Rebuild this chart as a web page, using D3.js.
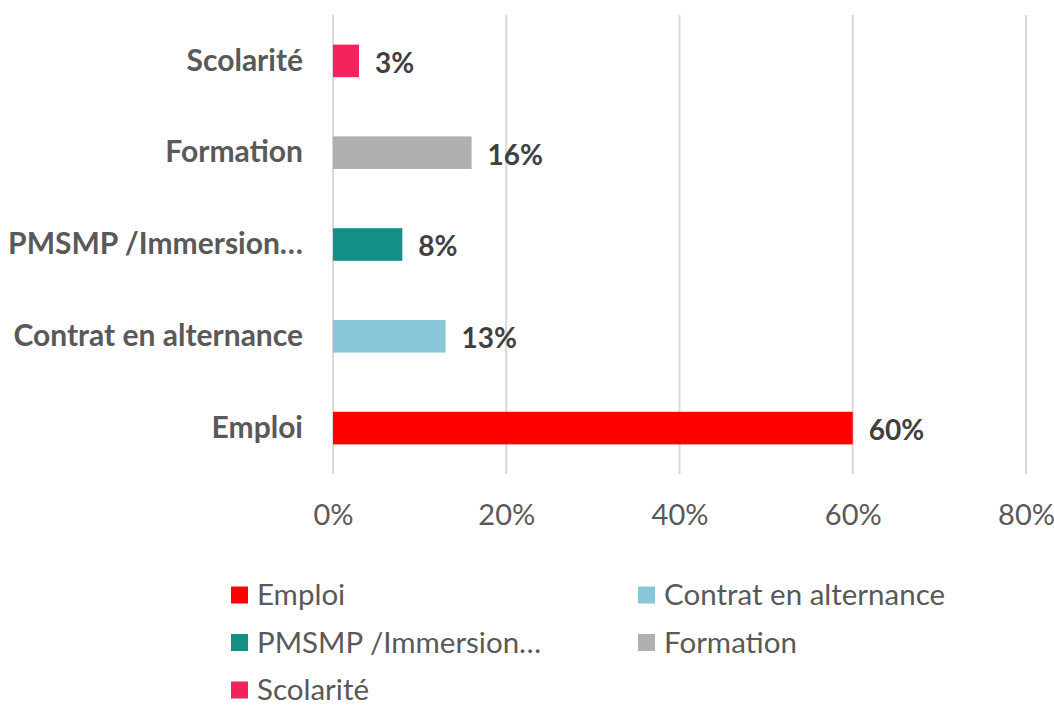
<!DOCTYPE html>
<html>
<head>
<meta charset="utf-8">
<script src="https://cdn.jsdelivr.net/npm/d3@7"></script>
<style>
  body { margin: 0; background: #fff; }
  svg { display: block; font-family: Lato, "Open Sans", sans-serif; }
</style>
</head>
<body>
<svg id="chart" width="1054" height="708"></svg>
<script>
// categories from bottom to top, as on the chart
var categories = ["Emploi", "Contrat en alternance", "PMSMP /Immersion…", "Formation", "Scolarité"];
var values = [60, 13, 8, 16, 3];
var valueLabels = ["60%", "13%", "8%", "16%", "3%"];
var colors = ["#ff0000", "#89c6d9", "#138f88", "#b0b0b0", "#f5235b"];
var ticks = [0, 20, 40, 60, 80];

var svg = d3.select("#chart");
var plot = { left: 333, right: 1026, top: 15, bottom: 474 };

var x = d3.scaleLinear().domain([0, 80]).range([plot.left, plot.right]);
// first category at the bottom
var y = d3.scaleBand()
    .domain(categories.slice().reverse())
    .range([plot.top, plot.bottom])
    .paddingInner(0.645)
    .paddingOuter(0.3225);

// gridlines
svg.append("g")
    .selectAll("line")
    .data(ticks)
    .join("line")
        .attr("x1", d => x(d))
        .attr("x2", d => x(d))
        .attr("y1", plot.top)
        .attr("y2", plot.bottom)
        .attr("stroke", "#d9d9d9")
        .attr("stroke-width", 2);

// x axis labels (no domain line, no tick marks)
var xAxis = d3.axisBottom(x)
    .tickValues(ticks)
    .tickFormat(d => d + "%")
    .tickSize(0)
    .tickPadding(0);
var gx = svg.append("g")
    .attr("transform", "translate(0," + plot.bottom + ")")
    .call(xAxis);
gx.select(".domain").remove();
gx.selectAll("text")
    .attr("y", 41)
    .attr("dy", "0.35em")
    .style("font-family", "Lato, sans-serif")
    .style("font-size", "29px")
    .attr("fill", "#595959");

// y axis labels
var yAxis = d3.axisLeft(y).tickSize(0).tickPadding(0);
var gy = svg.append("g")
    .attr("transform", "translate(303,0)")
    .call(yAxis);
gy.select(".domain").remove();
gy.selectAll("text")
    .style("font-family", "Lato, sans-serif")
    .style("font-size", "30px")
    .style("font-weight", "bold")
    .attr("fill", "#595959");

var data = categories.map((c, i) => ({ cat: c, value: values[i], label: valueLabels[i], color: colors[i] }));

// bars
svg.append("g")
    .selectAll("rect")
    .data(data)
    .join("rect")
        .attr("x", x(0))
        .attr("y", d => y(d.cat))
        .attr("width", d => x(d.value) - x(0))
        .attr("height", y.bandwidth())
        .attr("fill", d => d.color);

// value labels
svg.append("g")
    .selectAll("text")
    .data(data)
    .join("text")
        .attr("x", d => x(d.value) + 16)
        .attr("y", d => y(d.cat) + y.bandwidth() / 2 + 2)
        .attr("dy", "0.35em")
        .style("font-size", "28px")
        .style("font-weight", "bold")
        .attr("fill", "#404040")
        .text(d => d.label);

// legend, two columns
var legendX = [231, 638];
var legendY0 = 595, legendStep = 47.5;
var legend = svg.append("g")
    .selectAll("g")
    .data(data)
    .join("g")
        .attr("transform", (d, i) => "translate(" + legendX[i % 2] + "," + (legendY0 + Math.floor(i / 2) * legendStep) + ")");
legend.append("rect")
    .attr("x", 0)
    .attr("y", -8.5)
    .attr("width", 17)
    .attr("height", 17)
    .attr("fill", d => d.color);
legend.append("text")
    .attr("x", 26)
    .attr("dy", "0.35em")
    .style("font-size", "29.5px")
    .attr("fill", "#595959")
    .text(d => d.cat);
</script>
</body>
</html>
